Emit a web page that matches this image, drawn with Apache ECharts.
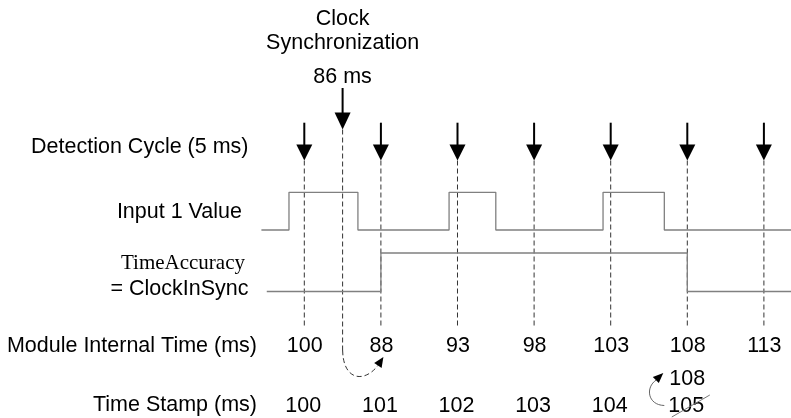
<!DOCTYPE html>
<html><head><meta charset="utf-8">
<script src="https://cdn.jsdelivr.net/npm/echarts@6/dist/echarts.min.js"></script>
<style>html,body{margin:0;padding:0;background:#fff}#c{width:791px;height:418px}</style>
</head><body><div id="c"></div>
<script>
// ---- data (x in detection-cycle units, 1 cycle = 5 ms) ----
const detectionCycles = [0, 1, 2, 3, 4, 5, 6];
const syncCycle = 0.5;
const syncTitle = ['Clock', 'Synchronization', '86 ms'];
const syncTargetCycle = 1;
const input1Edges = [-0.56, -0.2, 0.7, 1.89, 2.5, 3.9, 4.7, 6.36];
const input1Levels = [0, 1, 0, 1, 0, 1, 0, 0];
const timeAccEdges = [-0.49, 1, 5, 6.36];
const timeAccLevels = [0, 1, 0, 0];
const moduleTimes = [100, 88, 93, 98, 103, 108, 113];
const timeStamps = [100, 101, 102, 103, 104, 105];
const correctedIndex = 5;
const correctedStamp = 108;
const rowLabels = ['Detection Cycle (5 ms)', 'Input 1 Value', 'TimeAccuracy', '= ClockInSync', 'Module Internal Time (ms)', 'Time Stamp (ms)'];

// ---- layout (vertical positions on a 0..418 inverted axis) ----
const L = {
  syncStemTop: 88, syncHeadTop: 112.5, syncTip: 129.5,
  detStemTop: 122.7, detHeadTop: 144.5, detTip: 160.5, dashEnd: 327,
  inLow: 230, inHigh: 192.3, taLow: 291.5, taHigh: 253,
  modRow: 346, stampRow: 406, corrRow: 379
};
const FONT = '21.5px "Liberation Sans", Arial, sans-serif';
const SERIF = '21px "Liberation Serif", "Times New Roman", serif';
const SY = 1.06;

const chart = echarts.init(document.getElementById('c'), null, {renderer: 'canvas'});

function px(api, v, y) { return api.coord([v, y]); }
function txt(text, x, y, align, font) {
  return {type: 'text', x: x, y: y, scaleY: font === SERIF ? 1 : SY,
    style: {text: text, x: 0, y: 0, align: align, verticalAlign: 'middle', font: font || FONT, fill: '#000'}};
}

const option = {
  animation: false,
  backgroundColor: '#fff',
  grid: {left: 0, right: 0, top: 0, bottom: 0},
  xAxis: {type: 'value', min: -3.9726, max: 6.3538, show: false},
  yAxis: {type: 'value', min: 0, max: 418, inverse: true, show: false},
  graphic: [
    txt(rowLabels[0], 248.5, 147, 'right'),
    txt(rowLabels[1], 242, 212, 'right'),
    txt(rowLabels[2], 245, 263, 'right', SERIF),
    txt(rowLabels[3], 248.5, 289, 'right'),
    txt(rowLabels[4], 257, 346, 'right'),
    txt(rowLabels[5], 257, 405, 'right')
  ],
  series: [
    {
      type: 'line', step: 'end', symbol: 'none', silent: true,
      data: input1Edges.map((e, i) => [e, input1Levels[i] ? L.inHigh : L.inLow]),
      lineStyle: {color: '#808080', width: 1.3}
    },
    {
      type: 'line', step: 'end', symbol: 'none', silent: true,
      data: timeAccEdges.map((e, i) => [e, timeAccLevels[i] ? L.taHigh : L.taLow]),
      lineStyle: {color: '#808080', width: 1.3}
    },
    {
      // detection cycle arrows + dashed guide lines
      type: 'custom', silent: true,
      data: detectionCycles.map(c => [c]),
      renderItem: function (params, api) {
        const v = api.value(0);
        const x = px(api, v, 0)[0];
        const y = (yy) => px(api, v, yy)[1];
        return {type: 'group', children: [
          {type: 'line', shape: {x1: x, y1: y(L.detStemTop), x2: x, y2: y(L.detHeadTop) + 1}, style: {stroke: '#000', lineWidth: 2}},
          {type: 'polygon', shape: {points: [[x - 8, y(L.detHeadTop)], [x + 8, y(L.detHeadTop)], [x, y(L.detTip)]]}, style: {fill: '#000'}},
          {type: 'line', shape: {x1: x, y1: y(L.detTip), x2: x, y2: y(L.dashEnd)}, style: {stroke: '#333', lineWidth: 1, lineDash: [5, 3]}}
        ]};
      }
    },
    {
      // clock synchronization arrow
      type: 'custom', silent: true,
      data: [[syncCycle, syncTargetCycle]],
      renderItem: function (params, api) {
        const v = api.value(0);
        const x = px(api, v, 0)[0];
        const xt = px(api, api.value(1), 0)[0];
        const y = (yy) => px(api, v, yy)[1];
        const tipX = xt + 2.5, tipY = 357;
        return {type: 'group', children: [
          txt(syncTitle[0], x, 19, 'center'),
          txt(syncTitle[1], x, 43, 'center'),
          txt(syncTitle[2], x, 76.5, 'center'),
          {type: 'line', shape: {x1: x, y1: y(L.syncStemTop), x2: x, y2: y(L.syncHeadTop) + 1}, style: {stroke: '#000', lineWidth: 2}},
          {type: 'polygon', shape: {points: [[x - 8, y(L.syncHeadTop)], [x + 8, y(L.syncHeadTop)], [x, y(L.syncTip)]]}, style: {fill: '#000'}},
          {type: 'line', shape: {x1: x, y1: y(L.syncTip), x2: x, y2: 350}, style: {stroke: '#333', lineWidth: 1, lineDash: [5, 3]}},
          {type: 'bezierCurve', shape: {x1: x, y1: 350, cpx1: x + 0.5, cpy1: 381, cpx2: x + 22, cpy2: 383, x2: tipX - 5.5, y2: 365.5}, style: {stroke: '#333', lineWidth: 1, lineDash: [5, 3], fill: null}},
          {type: 'polygon', shape: {points: [[tipX, tipY], [tipX - 1.8, 368], [tipX - 9.2, 363]]}, style: {fill: '#000'}}
        ]};
      }
    },
    {
      // module internal time labels
      type: 'custom', silent: true,
      data: moduleTimes.map((t, i) => [detectionCycles[i], t]),
      renderItem: function (params, api) {
        const p = px(api, api.value(0), L.modRow);
        return txt(String(api.value(1)), p[0] + 0.5, p[1], 'center');
      }
    },
    {
      // time stamp labels
      type: 'custom', silent: true,
      data: timeStamps.map((t, i) => [detectionCycles[i], t]),
      renderItem: function (params, api) {
        const p = px(api, api.value(0), L.stampRow);
        return txt(String(api.value(1)), p[0] - 1, p[1], 'center');
      }
    },
    {
      // corrected time stamp
      type: 'custom', silent: true,
      data: [[detectionCycles[correctedIndex], correctedStamp]],
      renderItem: function (params, api) {
        const x = px(api, api.value(0), 0)[0];
        const yc = px(api, api.value(0), L.corrRow)[1];
        const ys = px(api, api.value(0), L.stampRow)[1];
        return {type: 'group', children: [
          txt(String(api.value(1)), x, yc, 'center'),
          {type: 'line', shape: {x1: x - 15.5, y1: ys + 11, x2: x + 22.5, y2: ys - 11}, style: {stroke: '#777', lineWidth: 1}},
          {type: 'bezierCurve', shape: {x1: x - 23, y1: ys - 0.5, cpx1: x - 40, cpy1: ys - 1, cpx2: x - 42, cpy2: yc + 8, x2: x - 31, y2: yc + 1}, style: {stroke: '#666', lineWidth: 1, fill: null}},
          {type: 'polygon', shape: {points: [[x - 24, yc - 6], [x - 28.5, yc + 4], [x - 34.5, yc - 2]]}, style: {fill: '#000'}}
        ]};
      }
    }
  ]
};
chart.setOption(option);
</script>
</body></html>
